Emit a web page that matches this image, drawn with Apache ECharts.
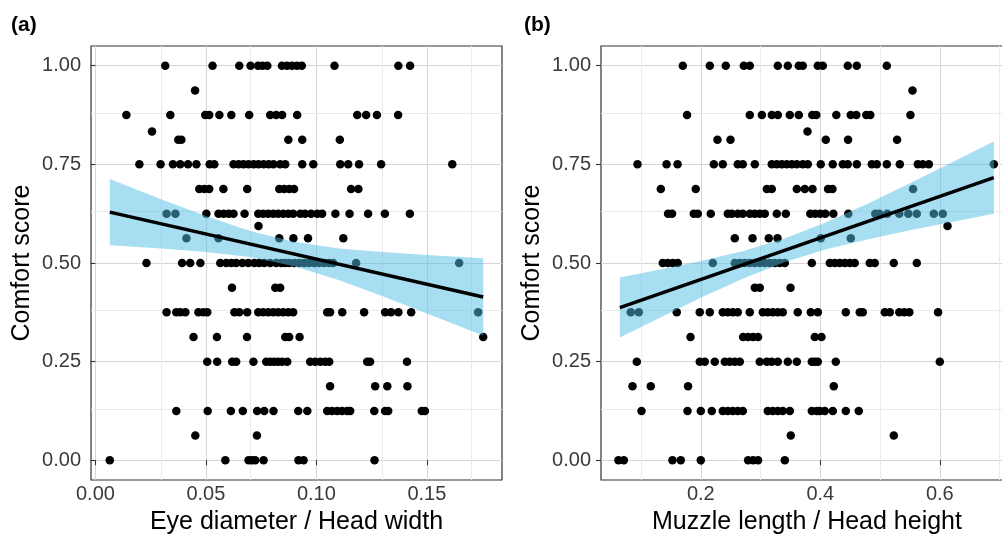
<!DOCTYPE html>
<html lang="en">
<head>
    <meta charset="UTF-8">
    <title>Comfort score</title>
    <script src="https://cdn.jsdelivr.net/npm/echarts@6.0.0/dist/echarts.min.js"></script>
    <style>
        html, body { margin: 0; padding: 0; background: #fff; }
        #chart { width: 1002px; height: 536px; }
    </style>
</head>
<body>
<div id="chart"></div>
<script>
    // score levels (rows of points), shared by both panels
    var levels = [1, 0.9375, 0.875, 0.8333, 0.8125, 0.75, 0.6875, 0.625, 0.5938, 0.5625, 0.5,
        0.4375, 0.375, 0.3125, 0.25, 0.1875, 0.125, 0.0625, 0];

    // (a) eye diameter / head width, one list per score level
    var eyeRatio = [
        [0.0316, 0.0530, 0.0651, 0.0702, 0.0736, 0.0756, 0.0778, 0.0844, 0.0867, 0.0889, 0.0912, 0.0934, 0.1082, 0.1371, 0.1424],
        [0.0451],
        [0.0140, 0.0339, 0.0497, 0.0515, 0.0561, 0.0615, 0.0696, 0.0791, 0.0818, 0.0845, 0.0913, 0.1185, 0.1225, 0.1274, 0.1370],
        [0.0256],
        [0.0375, 0.0389, 0.0873, 0.0936, 0.1106],
        [0.0199, 0.0295, 0.0351, 0.0384, 0.0419, 0.0457, 0.0517, 0.0538, 0.0625, 0.0648, 0.0670, 0.0693, 0.0716, 0.0738, 0.0761, 0.0784, 0.0806, 0.0836, 0.0859, 0.0936, 0.0986, 0.1108, 0.1144, 0.1193, 0.1293, 0.1615],
        [0.0470, 0.0493, 0.0515, 0.0579, 0.0687, 0.0832, 0.0854, 0.0877, 0.0899, 0.1157, 0.1190],
        [0.0322, 0.0362, 0.0502, 0.0557, 0.0580, 0.0603, 0.0625, 0.0675, 0.0737, 0.0759, 0.0782, 0.0805, 0.0827, 0.0850, 0.0873, 0.0895, 0.0927, 0.0949, 0.0976, 0.1004, 0.1026, 0.1086, 0.1150, 0.1234, 0.1310, 0.1423],
        [0.0738],
        [0.0412, 0.0557, 0.0832, 0.0896, 0.0962, 0.1122],
        [0.0231, 0.0392, 0.0429, 0.0475, 0.0565, 0.0592, 0.0615, 0.0637, 0.0665, 0.0692, 0.0719, 0.0741, 0.0764, 0.0791, 0.0818, 0.0841, 0.0859, 0.0877, 0.0900, 0.0922, 0.0945, 0.0967, 0.0990, 0.1013, 0.1035, 0.1058, 0.1076, 0.1180, 0.1646],
        [0.0618, 0.0814, 0.0836],
        [0.0322, 0.0366, 0.0384, 0.0407, 0.0466, 0.0488, 0.0506, 0.0629, 0.0651, 0.0687, 0.0737, 0.0759, 0.0782, 0.0805, 0.0827, 0.0850, 0.0873, 0.0895, 0.1049, 0.1062, 0.1117, 0.1216, 0.1311, 0.1338, 0.1371, 0.1429, 0.1732],
        [0.0444, 0.0550, 0.0686, 0.0859, 0.0877, 0.0924, 0.1755],
        [0.0506, 0.0551, 0.0619, 0.0637, 0.0715, 0.0773, 0.0791, 0.0809, 0.0827, 0.0845, 0.0868, 0.0972, 0.0995, 0.1018, 0.1040, 0.1058, 0.1230, 0.1243, 0.1410],
        [0.1062, 0.1266, 0.1321, 0.1412],
        [0.0366, 0.0508, 0.0613, 0.0667, 0.0732, 0.0764, 0.0806, 0.0918, 0.0959, 0.1049, 0.1071, 0.1094, 0.1116, 0.1139, 0.1153, 0.1262, 0.1311, 0.1325, 0.1477, 0.1491],
        [0.0452, 0.0731],
        [0.0065, 0.0588, 0.0693, 0.0708, 0.0723, 0.0761, 0.0919, 0.0942, 0.1263]
    ];

    // (b) muzzle length / head height, one list per score level
    var muzzleRatio = [
        [0.1699, 0.2151, 0.2418, 0.2720, 0.2820, 0.3289, 0.3456, 0.3640, 0.3707, 0.3958, 0.4042, 0.4460, 0.4611, 0.5113],
        [0.5543],
        [0.1770, 0.2820, 0.3022, 0.3189, 0.3289, 0.3490, 0.3640, 0.3866, 0.3933, 0.4268, 0.4510, 0.4603, 0.4770, 0.4837, 0.5509],
        [0.3786],
        [0.2279, 0.2497, 0.4092, 0.4465, 0.5285],
        [0.0941, 0.1427, 0.1611, 0.2218, 0.2368, 0.2619, 0.2703, 0.2904, 0.3188, 0.3272, 0.3356, 0.3439, 0.3523, 0.3607, 0.3707, 0.3791, 0.4008, 0.4209, 0.4377, 0.4460, 0.4611, 0.4862, 0.4946, 0.5113, 0.5331, 0.5632, 0.5715, 0.5816, 0.6904],
        [0.1331, 0.1916, 0.3105, 0.3188, 0.3607, 0.3741, 0.3870, 0.4130, 0.4203, 0.5553],
        [0.1452, 0.1519, 0.1883, 0.1950, 0.2167, 0.2452, 0.2519, 0.2619, 0.2703, 0.2820, 0.2904, 0.2987, 0.3071, 0.3272, 0.3423, 0.3833, 0.3916, 0.4000, 0.4084, 0.4218, 0.4469, 0.4921, 0.4987, 0.5121, 0.5322, 0.5473, 0.5615, 0.5900, 0.6050],
        [0.6129],
        [0.2569, 0.2866, 0.3138, 0.3284, 0.4008, 0.4510],
        [0.1364, 0.1448, 0.1531, 0.1615, 0.2201, 0.2569, 0.2653, 0.2736, 0.2820, 0.2904, 0.2987, 0.3071, 0.3155, 0.3238, 0.3322, 0.3406, 0.3858, 0.4159, 0.4243, 0.4326, 0.4410, 0.4494, 0.4577, 0.4828, 0.4912, 0.5230, 0.5615],
        [0.2904, 0.2987, 0.3502],
        [0.0828, 0.0962, 0.1598, 0.1983, 0.2151, 0.2368, 0.2452, 0.2536, 0.2619, 0.2820, 0.3038, 0.3121, 0.3205, 0.3289, 0.3372, 0.3623, 0.3841, 0.3958, 0.4427, 0.4661, 0.4711, 0.5079, 0.5163, 0.5322, 0.5406, 0.5490, 0.5971],
        [0.1828, 0.2708, 0.2792, 0.2875, 0.2958, 0.3908, 0.4020],
        [0.0929, 0.1983, 0.2067, 0.2234, 0.2402, 0.2485, 0.2569, 0.2653, 0.2987, 0.3105, 0.3188, 0.3289, 0.3456, 0.3607, 0.3858, 0.3908, 0.3958, 0.4259, 0.6000],
        [0.0857, 0.1163, 0.1787, 0.4226],
        [0.1008, 0.1778, 0.2000, 0.2184, 0.2368, 0.2452, 0.2536, 0.2619, 0.2703, 0.3121, 0.3205, 0.3289, 0.3372, 0.3490, 0.3858, 0.3941, 0.3992, 0.4075, 0.4209, 0.4427, 0.4644],
        [0.3506, 0.5230],
        [0.0622, 0.0712, 0.1526, 0.1665, 0.2000, 0.2792, 0.2875, 0.2958, 0.3406]
    ];

    // fitted lines and 95% bands
    var eyeFitX = [0.0065, 0.1755];
    var eyeFitY = [0.629, 0.414];
    var eyeBandX = [0.0065, 0.03, 0.05, 0.07, 0.09, 0.11, 0.13, 0.15, 0.1755];
    var eyeBandLo = [0.545, 0.537, 0.528, 0.515, 0.492, 0.457, 0.416, 0.372, 0.316];
    var eyeBandHi = [0.713, 0.661, 0.619, 0.581, 0.554, 0.537, 0.528, 0.520, 0.512];

    var muzFitX = [0.0645, 0.6904];
    var muzFitY = [0.387, 0.7165];
    var muzBandX = [0.0645, 0.13, 0.2, 0.27, 0.34, 0.41, 0.48, 0.55, 0.62, 0.6904];
    var muzBandLo = [0.311, 0.360, 0.412, 0.460, 0.502, 0.535, 0.560, 0.583, 0.604, 0.625];
    var muzBandHi = [0.463, 0.483, 0.505, 0.530, 0.562, 0.603, 0.651, 0.702, 0.755, 0.808];

    // tick labels
    var yTicks = [0, 0.25, 0.5, 0.75, 1];
    var yMinor = [0.125, 0.375, 0.625, 0.875];
    var eyeTicks = [0, 0.05, 0.1, 0.15];
    var eyeMinor = [0.025, 0.075, 0.125, 0.175];
    var muzTicks = [0.2, 0.4, 0.6];
    var muzMinor = [0.1, 0.3, 0.5, 0.7];

    var FONT = 'Liberation Sans';

    function points(xs) {
        var out = [];
        xs.forEach(function (row, i) {
            row.forEach(function (x) { out.push([x, levels[i]]); });
        });
        return out;
    }

    function minorLines(xm, ym) {
        var d = [];
        xm.forEach(function (v) { d.push({xAxis: v}); });
        ym.forEach(function (v) { d.push({yAxis: v}); });
        return {
            silent: true, z: 1, symbol: ['none', 'none'], label: {show: false},
            lineStyle: {color: '#ebebeb', width: 1, type: 'solid'},
            emphasis: {disabled: true},
            data: d
        };
    }

    function band(bx, lo, hi) {
        return function (params, api) {
            var pts = [];
            for (var i = 0; i < bx.length; i++) pts.push(api.coord([bx[i], hi[i]]));
            for (var j = bx.length - 1; j >= 0; j--) pts.push(api.coord([bx[j], lo[j]]));
            return {type: 'polygon', shape: {points: pts}, style: {fill: 'rgba(80,190,230,0.5)'}};
        };
    }

    function xAxis(idx, min, max, ticks, digits, name) {
        return {
            type: 'value', gridIndex: idx, min: min, max: max,
            name: name, nameLocation: 'middle', nameGap: 30,
            nameTextStyle: {fontFamily: FONT, fontSize: 25, color: '#000'},
            axisLine: {show: false},
            axisTick: {show: true, length: 5, customValues: ticks, lineStyle: {color: '#333', width: 1.1}},
            axisLabel: {customValues: ticks, margin: 4, fontFamily: FONT, fontSize: 20, color: '#3a3a3a',
                formatter: function (v) { return v.toFixed(digits); }},
            splitLine: {show: true, lineStyle: {color: '#d6d6d6', width: 1}}
        };
    }

    function yAxis(idx) {
        return {
            type: 'value', gridIndex: idx, min: -0.05, max: 1.05,
            name: 'Comfort score', nameLocation: 'middle', nameGap: 56,
            nameTextStyle: {fontFamily: FONT, fontSize: 25, color: '#000'},
            axisLine: {show: false},
            axisTick: {show: true, length: 5, customValues: yTicks, lineStyle: {color: '#333', width: 1.1}},
            axisLabel: {customValues: yTicks, margin: 10, fontFamily: FONT, fontSize: 20, color: '#3a3a3a',
                formatter: function (v) { return v.toFixed(2); }},
            splitLine: {show: true, lineStyle: {color: '#d6d6d6', width: 1}}
        };
    }

    var chart = echarts.init(document.getElementById('chart'), null, {renderer: 'canvas'});

    chart.setOption({
        animation: false,
        backgroundColor: '#fff',
        title: [
            {text: '(a)', left: 6, top: 10, textStyle: {fontFamily: FONT, fontSize: 21, fontWeight: 'bold', color: '#000'}},
            {text: '(b)', left: 519, top: 10, textStyle: {fontFamily: FONT, fontSize: 21, fontWeight: 'bold', color: '#000'}}
        ],
        grid: [
            {left: 91, top: 46, width: 411, height: 434, outerBoundsMode: 'none',
                show: true, borderColor: '#333', borderWidth: 1.2, backgroundColor: '#fff'},
            {left: 601, top: 46, width: 412, height: 434, outerBoundsMode: 'none',
                show: true, borderColor: '#333', borderWidth: 1.2, backgroundColor: '#fff'}
        ],
        xAxis: [
            xAxis(0, -0.002, 0.184, eyeTicks, 2, 'Eye diameter / Head width'),
            xAxis(1, 0.033, 0.7225, muzTicks, 1, 'Muzzle length / Head height')
        ],
        yAxis: [yAxis(0), yAxis(1)],
        series: [
            {
                type: 'scatter', xAxisIndex: 0, yAxisIndex: 0, z: 3,
                symbolSize: 8.5, itemStyle: {color: '#000', opacity: 1},
                data: points(eyeRatio),
                markLine: minorLines(eyeMinor, yMinor)
            },
            {
                type: 'custom', xAxisIndex: 0, yAxisIndex: 0, z: 4, silent: true,
                data: [[eyeBandX[0], eyeBandLo[0]]],
                renderItem: band(eyeBandX, eyeBandLo, eyeBandHi)
            },
            {
                type: 'line', xAxisIndex: 0, yAxisIndex: 0, z: 5, silent: true,
                showSymbol: false, lineStyle: {color: '#000', width: 3.5},
                data: eyeFitX.map(function (x, i) { return [x, eyeFitY[i]]; })
            },
            {
                type: 'scatter', xAxisIndex: 1, yAxisIndex: 1, z: 3,
                symbolSize: 8.5, itemStyle: {color: '#000', opacity: 1},
                data: points(muzzleRatio),
                markLine: minorLines(muzMinor, yMinor)
            },
            {
                type: 'custom', xAxisIndex: 1, yAxisIndex: 1, z: 4, silent: true,
                data: [[muzBandX[0], muzBandLo[0]]],
                renderItem: band(muzBandX, muzBandLo, muzBandHi)
            },
            {
                type: 'line', xAxisIndex: 1, yAxisIndex: 1, z: 5, silent: true,
                showSymbol: false, lineStyle: {color: '#000', width: 3.5},
                data: muzFitX.map(function (x, i) { return [x, muzFitY[i]]; })
            }
        ]
    });
</script>
</body>
</html>
